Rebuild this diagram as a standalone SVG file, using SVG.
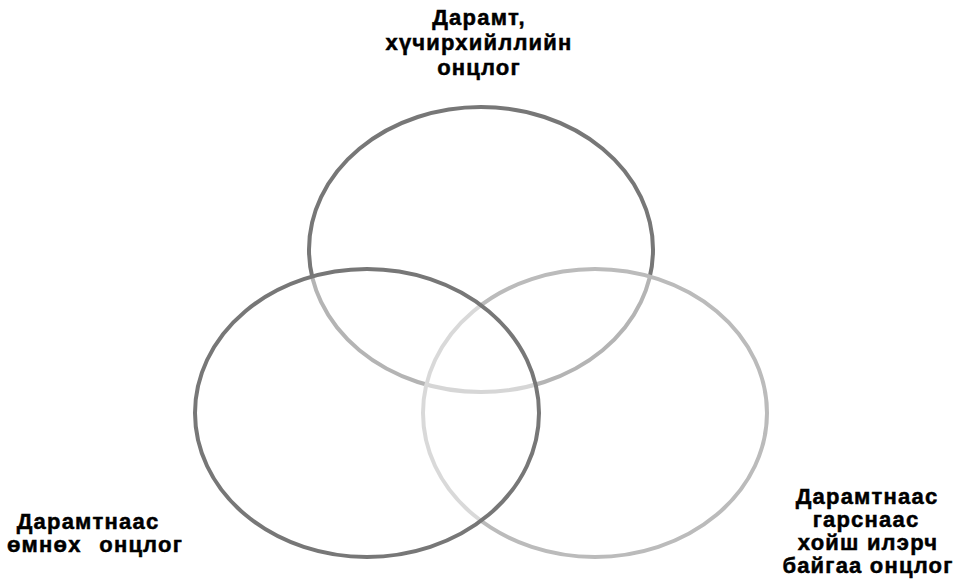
<svg xmlns="http://www.w3.org/2000/svg" width="965" height="580" viewBox="0 0 965 580">
  <style>
    .c { fill: #ffffff; fill-opacity: 0.45; stroke-width: 4; }
    .dark { stroke: #777777; }
    .light { stroke: #bbbbbb; }
    .lbl { font-family: "Liberation Sans", Arial, sans-serif; font-weight: bold; font-size: 22px; fill: #000000; stroke: #000000; stroke-width: 0.5px; text-anchor: middle; letter-spacing: 1.2px; }
  </style>
  <rect width="965" height="580" fill="#ffffff"/>
  <g id="node-top">
    <ellipse class="c dark" cx="481" cy="249.5" rx="172" ry="142.5"/>
    <text class="lbl" x="479" y="25">Дарамт,</text>
    <text class="lbl" x="479" y="50">хүчирхийллийн</text>
    <text class="lbl" x="479" y="75">онцлог</text>
  </g>
  <g id="node-right">
    <ellipse class="c light" cx="595" cy="413" rx="172" ry="144"/>
    <text class="lbl" x="867" y="504">Дарамтнаас</text>
    <text class="lbl" x="866" y="527">гарснаас</text>
    <text class="lbl" x="868" y="550">хойш илэрч</text>
    <text class="lbl" x="868" y="573">байгаа онцлог</text>
  </g>
  <g id="node-left">
    <ellipse class="c dark" cx="367" cy="413" rx="172" ry="144"/>
    <text class="lbl" x="88" y="529">Дарамтнаас</text>
    <text class="lbl" x="95" y="552" xml:space="preserve" style="word-spacing:1.5px">өмнөх  онцлог</text>
  </g>
</svg>
